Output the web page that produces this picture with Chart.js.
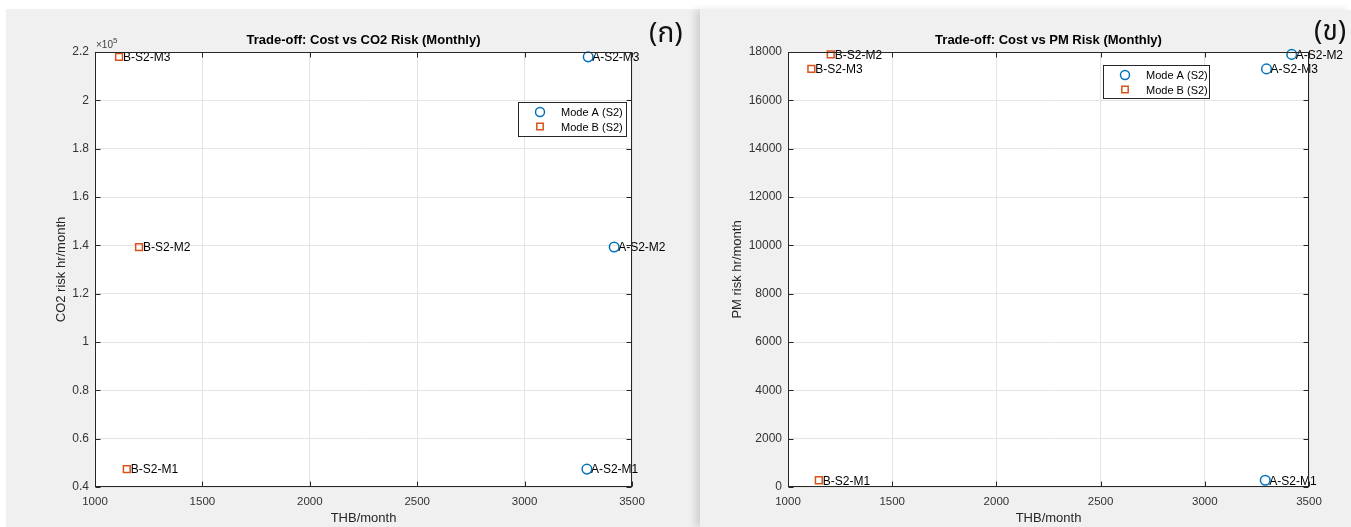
<!DOCTYPE html>
<html>
<head>
<meta charset="utf-8">
<script src="https://cdn.jsdelivr.net/npm/chart.js@4.4.1/dist/chart.umd.min.js"></script>
<style>
  html, body { margin: 0; padding: 0; background: #fff; }
  #page { position: relative; width: 1351px; height: 527px; overflow: hidden; }
  .panel { position: absolute; background: #f0f0f0; }
  #panelA { left: 6px; top: 9px; width: 694px; height: 518px; }
  #panelB { left: 700px; top: 10px; width: 651px; height: 517px; box-shadow: -5px 0 7px rgba(0,0,0,.13); }
  canvas { position: absolute; top: 0; }
  #cA { left: 0; }
  #cB { left: 700px; }
  .tag { position: absolute; font-family: "Noto Sans Thai", "Loma", "Garuda", "DejaVu Sans", sans-serif; font-size: 28px; line-height: 1; color: #111; }
</style>
</head>
<body>
<div id="page">
  <div class="panel" id="panelA"></div>
  <div class="panel" id="panelB"></div>
  <canvas id="cA" width="690" height="527"></canvas>
  <canvas id="cB" width="651" height="527"></canvas>
  <div class="tag" style="left:649px; top:20px;">(ก)</div>
  <div class="tag" style="left:1314px; top:18px;">(ข)</div>
</div>
<script>
// ---- dane ----
const modes = ["M1", "M2", "M3"];
const costA = [3290, 3417, 3296];      // THB/month, Mode A
const costB = [1148, 1205, 1112];      // THB/month, Mode B
const co2A = [47400, 139300, 218000];  // CO2 risk hr/month
const co2B = [47400, 139300, 218000];
const pmA = [280, 17900, 17300];       // PM risk hr/month
const pmB = [280, 17900, 17300];

const xTicks = [1000, 1500, 2000, 2500, 3000, 3500];
const co2Ticks = [40000, 60000, 80000, 100000, 120000, 140000, 160000, 180000, 200000, 220000];
const pmTicks = [0, 2000, 4000, 6000, 8000, 10000, 12000, 14000, 16000, 18000];

const FONT = "'Liberation Sans', Arial, sans-serif";
const INK = "#262626";

// rysuje ramkę, tyczki do środka, tytuły, podpisy punktów i legendę w stylu MATLAB-a
const matlabPlugin = {
    id: "matlab",
    beforeDraw(chart) {
        const { ctx, chartArea: a } = chart;
        ctx.save();
        ctx.fillStyle = "#fff";
        ctx.fillRect(a.left, a.top, a.width, a.height);
        ctx.restore();
    },
    afterDatasetsDraw(chart) {
        const ctx = chart.ctx;
        ctx.save();
        ctx.font = `12px ${FONT}`;
        ctx.fillStyle = "#000";
        ctx.textBaseline = "middle";
        ctx.textAlign = "left";
        chart.data.datasets.forEach((ds, i) => {
            chart.getDatasetMeta(i).data.forEach((el, j) => {
                ctx.fillText(ds.tags[j], el.x + 4, el.y + 1);
            });
        });
        ctx.restore();
    },
    afterDraw(chart, args, o) {
        const { ctx, chartArea: a, scales } = chart;
        const L = Math.round(a.left) + 0.5, R = Math.round(a.right) - 0.5;
        const T = Math.round(a.top) + 0.5, B = Math.round(a.bottom) - 0.5;
        ctx.save();
        ctx.strokeStyle = INK;
        ctx.lineWidth = 1;
        ctx.strokeRect(L, T, R - L, B - T);

        ctx.beginPath();
        scales.x.ticks.forEach(t => {
            const px = Math.round(scales.x.getPixelForValue(t.value)) + 0.5;
            ctx.moveTo(px, B); ctx.lineTo(px, B - 5);
            ctx.moveTo(px, T); ctx.lineTo(px, T + 5);
        });
        scales.y.ticks.forEach(t => {
            const py = Math.round(scales.y.getPixelForValue(t.value)) + 0.5;
            ctx.moveTo(L, py); ctx.lineTo(L + 5, py);
            ctx.moveTo(R, py); ctx.lineTo(R - 5, py);
        });
        ctx.stroke();

        // tytuł
        ctx.fillStyle = "#000";
        ctx.textAlign = "center";
        ctx.textBaseline = "middle";
        ctx.font = `bold 13px ${FONT}`;
        ctx.fillText(o.title, (a.left + a.right) / 2, a.top - 12);

        // opisy osi
        ctx.fillStyle = INK;
        ctx.font = `13px ${FONT}`;
        ctx.fillText("THB/month", (a.left + a.right) / 2, 518);
        ctx.save();
        ctx.translate(o.yTitleX, (a.top + a.bottom) / 2);
        ctx.rotate(-Math.PI / 2);
        ctx.fillText(o.yTitle, 0, 0);
        ctx.restore();

        // mnożnik x10^5
        if (o.exponent) {
            ctx.textAlign = "left";
            ctx.textBaseline = "alphabetic";
            ctx.fillStyle = "#444";
            ctx.font = `10px ${FONT}`;
            ctx.fillText("\u00d710", a.left + 1, a.top - 4);
            const w = ctx.measureText("\u00d710").width;
            ctx.font = `8px ${FONT}`;
            ctx.fillText(o.exponent, a.left + 1 + w, a.top - 9);
        }

        // legenda
        const lg = o.legend;
        ctx.fillStyle = "#fff";
        ctx.fillRect(lg.x, lg.y, lg.w, lg.h);
        ctx.strokeStyle = INK;
        ctx.strokeRect(lg.x + 0.5, lg.y + 0.5, lg.w - 1, lg.h - 1);
        ctx.font = `11px ${FONT}`;
        ctx.textAlign = "left";
        ctx.textBaseline = "middle";
        chart.data.datasets.forEach((ds, i) => {
            const cy = lg.y + 10 + i * 14.5;
            ctx.strokeStyle = ds.borderColor;
            ctx.fillStyle = "rgba(0,0,0,0)";
            ctx.lineWidth = ds.borderWidth;
            Chart.helpers.drawPoint(ctx, { pointStyle: ds.pointStyle, radius: ds.pointRadius - 0.3, borderWidth: ds.borderWidth }, lg.x + 22, cy);
            ctx.fillStyle = "#000";
            ctx.fillText(ds.label, lg.x + 43, cy + 1);
        });
        ctx.restore();
    }
};

function makeChart(id, cfg) {
    const pts = (xs, ys) => xs.map((x, i) => ({ x, y: ys[i] }));

    return new Chart(document.getElementById(id), {
        type: "scatter",
        data: {
            datasets: [
                {
                    label: "Mode A (S2)",
                    data: pts(costA, cfg.yA),
                    tags: modes.map(m => "A-S2-" + m),
                    pointStyle: "circle",
                    pointRadius: 4.8,
                    borderColor: "#0072BD",
                    backgroundColor: "rgba(0,0,0,0)",
                    borderWidth: 1.5
                },
                {
                    label: "Mode B (S2)",
                    data: pts(costB, cfg.yB),
                    tags: modes.map(m => "B-S2-" + m),
                    pointStyle: "rect",
                    pointRadius: 4.8,
                    borderColor: "#D95319",
                    backgroundColor: "rgba(0,0,0,0)",
                    borderWidth: 1.5
                }
            ]
        },
        options: {
            responsive: false,
            animation: false,
            devicePixelRatio: 1,
            events: [],
            clip: false,
            layout: { padding: { left: 0, right: cfg.padRight, top: 52, bottom: 0 } },
            plugins: {
                legend: { display: false },
                tooltip: { enabled: false },
                matlab: cfg.deco
            },
            scales: {
                x: {
                    type: "linear",
                    min: 1000, max: 3500,
                    afterBuildTicks: s => { s.ticks = xTicks.map(v => ({ value: v })); },
                    afterFit: s => { s.height = 40; },
                    grid: { color: "#e4e4e4", drawTicks: false },
                    border: { display: false },
                    ticks: { padding: 8, color: "#333", font: { family: FONT, size: 11.5 }, maxRotation: 0, autoSkip: false, callback: v => String(v) }
                },
                y: {
                    type: "linear",
                    min: cfg.yTicks[0], max: cfg.yTicks[cfg.yTicks.length - 1],
                    afterBuildTicks: s => { s.ticks = cfg.yTicks.map(v => ({ value: v })); },
                    afterFit: s => { s.width = cfg.yWidth; },
                    grid: { color: "#e4e4e4", drawTicks: false },
                    border: { display: false },
                    ticks: { padding: 6, color: "#333", font: { family: FONT, size: 12 }, autoSkip: false, callback: cfg.fmt }
                }
            }
        },
        plugins: [matlabPlugin]
    });
}

makeChart("cA", {
    yA: co2A, yB: co2B, yTicks: co2Ticks,
    yWidth: 95, padRight: 58,
    fmt: v => String(+(v / 1e5).toFixed(1)),
    deco: {
        title: "Trade-off: Cost vs CO2 Risk (Monthly)",
        yTitle: "CO2 risk hr/month", yTitleX: 61,
        exponent: "5",
        legend: { x: 518, y: 102, w: 109, h: 35 }
    }
});

makeChart("cB", {
    yA: pmA, yB: pmB, yTicks: pmTicks,
    yWidth: 88, padRight: 42,
    fmt: v => String(v),
    deco: {
        title: "Trade-off: Cost vs PM Risk (Monthly)",
        yTitle: "PM risk hr/month", yTitleX: 37,
        exponent: null,
        legend: { x: 403, y: 65, w: 107, h: 34 }
    }
});
</script>
</body>
</html>
